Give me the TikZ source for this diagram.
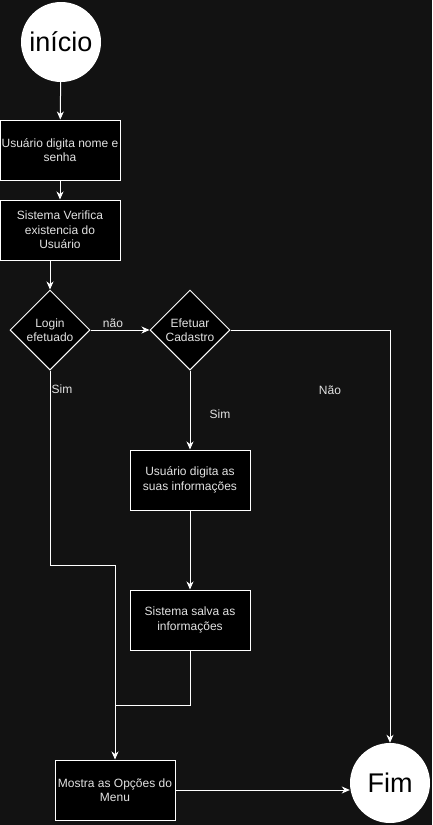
\documentclass[tikz,border=0pt]{standalone}
\usepackage{fontspec}
\setmainfont{Liberation Sans}
\usetikzlibrary{shapes.geometric,arrows.meta}
\definecolor{fundo}{HTML}{121212}
\definecolor{texto}{HTML}{E2E2E2}

\begin{document}
\begin{tikzpicture}[x=1pt, y=-1pt,
    caixa/.style={draw=white, fill=black, text=texto, line width=1pt, minimum width=120pt, minimum height=60pt, inner sep=0pt, align=center, font=\fontsize{12}{14.5}\selectfont},
    decisao/.style={diamond, aspect=1, draw=white, fill=black, text=texto, line width=1pt, minimum width=80pt, minimum height=80pt, inner sep=-2pt, align=center, font=\fontsize{12}{14.5}\selectfont},
    terminal/.style={circle, fill=white, text=black, minimum size=80pt, inner sep=0pt, font=\fontsize{27}{30}\selectfont},
    rotulo/.style={text=texto, inner sep=0pt, font=\fontsize{12}{14}\selectfont},
    seta/.style={draw=white, line width=1pt, -{Stealth[length=8pt,width=7pt,inset=2.5pt]}},
    linha/.style={draw=white, line width=1pt}]
    \fill[fundo] (0,0) rectangle (432,825);
    \useasboundingbox (0,0) rectangle (432,825);
    % nos
    \node[terminal] (inicio) at (61,42) {início};
    \node[caixa] (nome) at (60,150) {Usuário digita nome e\\senha};
    \node[caixa] (verifica) at (60,230) {Sistema Verifica\\existencia do\\Usuário};
    \node[decisao] (login) at (50,330) {Login\\efetuado};
    \node[decisao] (cadastro) at (190,330) {Efetuar\\Cadastro};
    \node[caixa] (dados) at (190,480) {Usuário digita as\\suas informações};
    \node[caixa] (salva) at (190,620) {Sistema salva as\\informações};
    \node[caixa] (menu) at (115,790) {Mostra as Opções do\\Menu};
    \node[terminal] (fim) at (390,783) {Fim};
    \coordinate (juntaLogin) at (115,565);
    \coordinate (juntaSalva) at (115,705);
    % ligacoes
    \draw[seta] (inicio) -- (nome);
    \draw[seta] (nome) -- (verifica);
    \draw[seta] (login.north |- verifica.south) -- (login.north);
    \draw[seta] (login.east) -- (cadastro.west);
    \draw[seta] (cadastro.east) -| (fim.north);
    \draw[seta] (cadastro.south) -- (dados.north);
    \draw[seta] (dados) -- (salva);
    \draw[linha] (salva.south) |- (juntaSalva);
    \draw[seta] (login.south) |- (juntaLogin) -- (menu.north);
    \draw[seta] (menu.east) -- (menu.east -| fim.west);
    % rotulos
    \node[rotulo] (naoLogin) at (113,323) {não};
    \node[rotulo] (simLogin) at (62,389) {Sim};
    \node[rotulo] (simCadastro) at (220,414) {Sim};
    \node[rotulo] (naoCadastro) at (330,390) {Não};
\end{tikzpicture}
\end{document}
